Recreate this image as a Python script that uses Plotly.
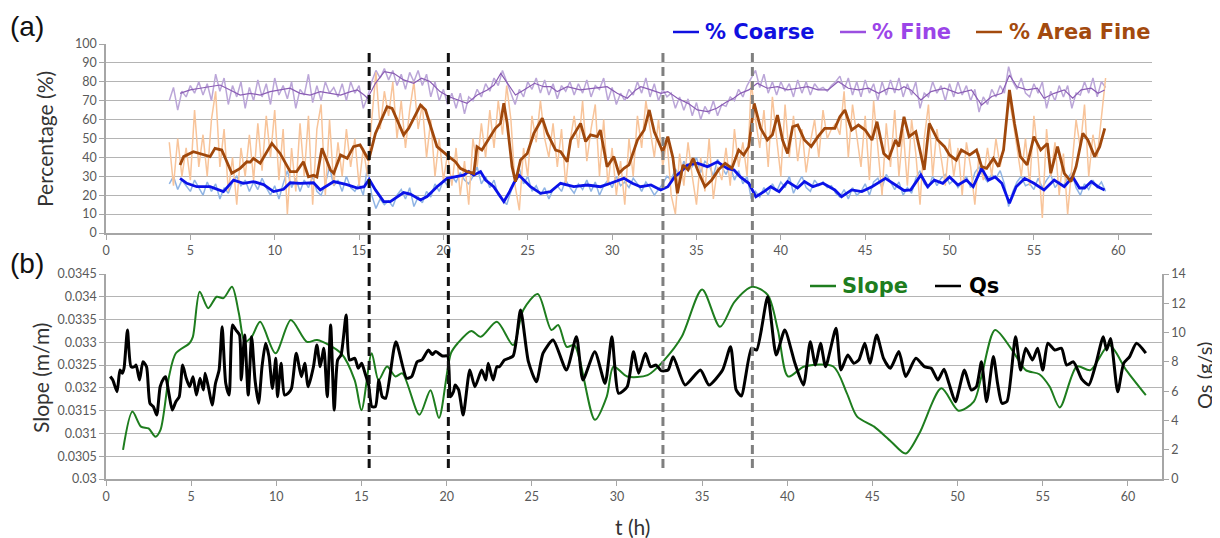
import numpy as np
import plotly.graph_objects as go

# page body has an 8px margin: the figure is placed at (8, 8) in the 1220x538 window
OFF = 8
W, H = 1220 - OFF, 538 - OFF

# ---------------- panel (a): raw series, sampled every 0.25 h from 3.75 h ----------------
raw_start, raw_step = 3.75, 0.25
fine_raw = [70, 77, 65, 75, 72, 78, 74, 80, 73, 79, 70, 84, 75, 82, 68, 78, 72, 80, 66, 77,
            70, 81, 72, 79, 68, 82, 73, 78, 71, 80, 66, 76, 73, 84, 69, 78, 70, 80, 74, 77,
            72, 79, 70, 80, 74, 78, 66, 72, 80, 86, 82, 87, 81, 86, 78, 84, 76, 85, 80, 86,
            78, 84, 72, 80, 70, 76, 68, 74, 66, 74, 63, 72, 70, 76, 72, 79, 75, 82, 78, 86,
            80, 74, 68, 76, 72, 80, 76, 82, 74, 81, 73, 79, 71, 78, 75, 80, 73, 79, 74, 81,
            72, 78, 76, 82, 70, 77, 68, 74, 70, 76, 73, 80, 74, 82, 72, 79, 70, 76, 72, 74,
            66, 72, 65, 71, 62, 69, 60, 67, 63, 70, 62, 68, 67, 72, 70, 76, 72, 78, 82, 86,
            77, 84, 74, 80, 73, 80, 75, 79, 72, 81, 74, 80, 73, 79, 76, 77, 75, 78, 80, 83,
            76, 82, 73, 80, 72, 81, 74, 79, 70, 80, 73, 81, 74, 82, 72, 79, 73, 80, 66, 74,
            72, 80, 74, 78, 70, 79, 72, 80, 73, 78, 70, 76, 64, 72, 68, 76, 72, 78, 74, 88,
            80, 76, 82, 74, 72, 79, 74, 80, 66, 75, 70, 78, 72, 78, 66, 74, 73, 80, 74, 82,
            72, 80, 77]
area_raw = [48, 25, 50, 30, 45, 28, 65, 35, 52, 30, 60, 75, 35, 55, 22, 40, 15, 45, 30, 52,
            28, 58, 33, 62, 40, 65, 28, 55, 10, 45, 22, 58, 30, 62, 15, 55, 68, 20, 60, 25,
            48, 30, 55, 35, 50, 25, 45, 30, 60, 85, 55, 75, 62, 80, 50, 70, 45, 65, 80, 55,
            68, 40, 60, 30, 50, 28, 42, 25, 45, 20, 38, 15, 50, 35, 58, 40, 65, 45, 70, 52,
            78, 60, 25, 12, 45, 30, 62, 48, 70, 50, 40, 58, 35, 55, 25, 48, 62, 45, 70, 38,
            55, 68, 30, 60, 25, 45, 20, 38, 15, 50, 30, 62, 45, 70, 55, 40, 60, 35, 50, 20,
            10, 42, 25, 48, 30, 15, 40, 22, 50, 18, 35, 28, 45, 25, 55, 35, 48, 30, 80, 60,
            45, 65, 35, 72, 50, 30, 68, 40, 62, 38, 55, 32, 48, 60, 40, 65, 50, 55, 58, 52,
            75, 40, 68, 50, 35, 62, 28, 70, 45, 20, 58, 35, 65, 30, 55, 25, 60, 42, 15, 50,
            68, 30, 55, 40, 25, 50, 30, 45, 20, 48, 35, 15, 42, 28, 45, 30, 50, 35, 48, 72,
            60, 45, 30, 50, 25, 62, 40, 8, 55, 30, 48, 20, 42, 10, 35, 60, 45, 68, 30, 52,
            40, 62, 82]
coarse_raw = [26, 30, 23, 28, 25, 22, 28, 24, 20, 27, 22, 26, 18, 24, 21, 27, 30, 25, 28, 22,
              27, 23, 29, 24, 20, 25, 18, 26, 33, 24, 29, 22, 28, 24, 30, 22, 20, 26, 35, 25,
              28, 22, 30, 24, 22, 26, 20, 35, 20, 13, 18, 15, 17, 14, 20, 23, 18, 24, 14, 19,
              16, 22, 19, 26, 22, 28, 25, 30, 27, 32, 28, 26, 30, 35, 26, 30, 24, 28, 20, 18,
              15, 22, 28, 34, 26, 30, 22, 25, 20, 24, 18, 23, 25, 22, 28, 24, 21, 26, 23, 28,
              22, 27, 20, 25, 28, 24, 30, 25, 27, 24, 29, 26, 22, 27, 24, 20, 23, 26, 30, 28,
              34, 30, 38, 33, 35, 40, 32, 38, 36, 30, 39, 35, 31, 36, 28, 33, 26, 30, 18, 22,
              19, 24, 20, 26, 22, 27, 24, 30, 21, 26, 30, 24, 22, 28, 25, 27, 24, 25, 21, 19,
              23, 18, 24, 20, 22, 26, 20, 27, 29, 24, 31, 27, 23, 27, 20, 24, 21, 29, 33, 26,
              24, 30, 25, 29, 31, 26, 28, 24, 27, 30, 24, 32, 35, 30, 27, 31, 29, 33, 26, 14,
              22, 27, 30, 25, 26, 23, 29, 24, 28, 31, 24, 27, 25, 29, 32, 24, 20, 26, 23, 28,
              24, 27, 22]

# ---------------- panel (a): smoothed series ----------------
coarse_t = [4.39, 4.79, 5.38, 6.17, 6.96, 7.56, 8.15, 8.74, 9.34, 9.93, 10.52, 10.92, 11.5, 12.3,
            12.7, 13.5, 14.28, 14.9, 15.3, 15.6, 15.97, 16.46, 16.85, 17.64, 18.04, 18.64, 19.03,
            19.62, 20.22, 20.81, 21.2, 21.5, 21.8, 22.2, 22.5, 22.98, 23.58, 23.87, 24.17, 24.47,
            24.77, 25.16, 25.76, 26.35, 26.94, 27.73, 28.52, 29.31, 29.91, 30.7, 31.2, 31.69,
            32.3, 32.88, 33.3, 33.7, 34.1, 34.46, 35.05, 35.65, 36.24, 36.83, 37.23, 37.6, 38.1,
            38.52, 39.0, 39.4, 39.9, 40.4, 40.99, 41.4, 41.9, 42.5, 43.2, 43.6, 44.2, 44.8, 45.4,
            46.2, 46.8, 47.3, 47.7, 48.3, 48.7, 49.1, 49.6, 50.0, 50.5, 51.0, 51.4, 51.9, 52.3,
            52.7, 53.1, 53.55, 53.95, 54.45, 55.0, 55.6, 56.2, 56.8, 57.3, 57.7, 58.0, 58.4,
            58.8, 59.19]
coarse_s = [28.9, 26.3, 24.5, 24.5, 21.9, 28.0, 26.3, 27.2, 25.6, 21.9, 23.1, 26.6, 26.3, 26.6,
            22.8, 27.2, 25.6, 23.8, 24.5, 28.4, 22.8, 16.6, 16.6, 21.4, 20.6, 17.5, 19.3,
            24.5, 28.9, 29.7, 30.6, 32.5, 30.6, 32.5, 28.0, 24.5, 16.6, 21.0, 26.3, 30.7,
            28.0, 24.5, 21.0, 21.9, 26.3, 24.5, 25.4, 24.5, 26.3, 28.9, 26.3, 24.5,
            25.4, 22.8, 24.5, 29.7, 32.5, 36.0, 36.9, 35.1, 37.7, 34.2, 33.3, 29.7, 26.3,
            19.2, 21.9, 24.5, 21.9, 27.2, 23.8, 27.2, 24.5, 26.3, 22.8, 19.2, 22.8, 21.9, 24.5,
            28.9, 25.4, 22.5, 22.8, 30.7, 24.5, 28.0, 26.3, 29.7, 25.4, 28.0, 24.5, 34.2, 28.0,
            29.7, 26.3, 15.7, 24.5, 28.9, 26.3, 22.8, 28.0, 24.5, 29.7, 23.8, 23.8, 27.2,
            24.5, 22.8]

area_t = [4.39, 4.6, 5.18, 5.58, 6.17, 6.46, 6.86, 7.46, 7.95, 8.35, 8.55, 8.74, 9.14, 9.83,
          10.32, 10.92, 11.3, 11.7, 12.0, 12.3, 12.5, 12.8, 13.3, 13.5, 13.9, 14.3, 14.67, 15.06,
          15.57, 15.97, 16.66, 16.96, 17.64, 17.94, 18.64, 18.94, 19.62, 20.32, 20.71, 21.0,
          21.4, 21.8, 21.99, 22.28, 22.79, 23.08, 23.38, 23.58, 23.78, 24.07, 24.27, 24.57,
          24.97, 25.36, 25.86, 26.16, 26.65, 26.95, 27.34, 27.54, 28.13, 28.43, 28.72, 29.12,
          29.3, 29.7, 30.1, 30.4, 30.7, 31.0, 31.5, 31.9, 32.2, 32.5, 33.0, 33.3, 33.6, 33.87,
          34.2, 34.5, 34.8, 35.1, 35.5, 35.9, 36.3, 36.7, 37.1, 37.5, 37.8, 38.1, 38.42, 38.8,
          39.2, 39.5, 39.8, 40.1, 40.4, 40.7, 41.0, 41.4, 41.8, 42.2, 42.6, 43.2, 43.5, 43.8,
          44.2, 44.6, 45.0, 45.4, 45.7, 46.1, 46.4, 46.8, 47.0, 47.3, 47.6, 48.0, 48.5, 48.8,
          49.3, 49.7, 50.0, 50.4, 50.7, 51.2, 51.6, 51.9, 52.2, 52.6, 52.9, 53.2, 53.55, 53.85,
          54.2, 54.6, 55.0, 55.4, 55.8, 56.0, 56.4, 56.8, 57.2, 57.5, 57.9, 58.2, 58.6, 58.9,
          59.2]
area_s = [36.0, 40.4, 43.0, 42.1, 40.4, 44.8, 43.9, 31.6, 34.2, 37.7, 37.5, 39.5, 36.9, 47.4,
          42.1, 32.5, 32.5, 37.7, 29.7, 30.5, 29.7, 44.8, 33.4, 31.6, 41.3, 39.5, 45.7, 46.6,
          38.6, 52.7, 66.8, 65.9, 51.9, 55.4, 67.7, 65.1, 45.7, 40.4, 37.7, 34.2,
          32.5, 31.5, 45.7, 43.9, 51.0, 55.4, 58.0, 68.6, 58.0, 35.1, 27.2, 38.6,
          42.1, 52.7, 60.7, 52.7, 43.9, 43.0, 37.7, 49.2, 58.0, 48.4, 51.9, 51.0,
          54.5, 35.1, 40.4, 31.6, 34.2, 36.0, 49.2, 54.5, 65.1, 53.6, 43.0, 51.0, 40.0, 21.0,
          36.0, 33.4, 39.5, 32.5, 24.5, 28.0, 33.4, 36.9, 34.2, 43.9, 41.3, 45.7, 68.6, 55.4,
          49.2, 52.0, 62.4, 49.2, 42.1, 56.2, 57.1, 49.2, 45.7, 51.0, 55.4, 55.4, 61.5, 65.1,
          54.5, 57.1, 54.5, 49.2, 58.9, 42.1, 39.5, 49.2, 45.7, 61.5, 51.0, 53.6, 33.4, 58.0,
          49.2, 45.7, 41.3, 38.6, 43.9, 41.3, 43.9, 35.1, 34.2, 39.5, 35.1, 43.9, 75.7, 58.0,
          40.4, 36.0, 51.0, 43.9, 47.4, 31.6, 45.7, 31.6, 27.2, 35.1, 52.7, 49.2, 40.4, 45.7,
          55.4]

fine_t = [4.39, 4.99, 5.58, 6.17, 6.76, 7.36, 7.95, 8.55, 9.14, 9.73, 10.3, 10.9, 11.5, 12.1,
          12.7, 13.3, 13.9, 14.5, 14.9, 15.3, 15.5, 15.97, 16.5, 17.05, 17.64, 18.24, 18.7, 19.2,
          19.8, 20.3, 20.8, 21.4, 22.0, 22.6, 23.0, 23.4, 23.8, 24.27, 24.77, 25.4, 25.95, 26.35,
          26.75, 27.34, 28.1, 29.1, 29.7, 30.3, 30.9, 31.4, 31.7, 32.3, 32.9, 33.3, 33.87, 34.5,
          35.05, 35.65, 36.2, 36.8, 37.2, 37.6, 38.1, 38.6, 39.2, 39.8, 40.4, 41.0, 41.6, 42.2,
          42.8, 43.4, 44.0, 44.6, 45.2, 45.8, 46.4, 47.0, 47.3, 47.7, 48.3, 48.9, 49.7, 50.5,
          51.3, 51.9, 52.5, 53.1, 53.55, 54.0, 54.6, 55.2, 55.6, 56.2, 56.8, 57.3, 57.8, 58.4,
          58.8, 59.19]
fine_s = [73.9, 75.7, 76.6, 77.4, 78.3, 75.7, 73.0, 73.9, 73.0, 74.8, 75.7, 76.6, 73.9, 73.0,
          74.8, 73.9, 73.0, 74.8, 75.7, 73.0, 71.3, 79.2, 85.4, 84.5, 81.0, 79.2, 81.9, 80.1,
          74.8, 72.2, 70.4, 68.6, 73.0, 75.7, 78.3, 84.5, 79.2, 73.0, 75.7, 79.2, 77.4, 77.4,
          74.8, 77.4, 75.7, 76.6, 77.4, 73.9, 71.3, 75.7, 77.4, 75.7, 73.9, 74.8, 71.3, 68.6,
          65.1, 64.2, 66.0, 69.5, 71.3, 73.9, 75.7, 79.2, 76.6, 77.4, 75.7, 76.6, 77.4, 75.7,
          75.7, 80.1, 76.6, 75.7, 76.6, 73.9, 76.6, 75.7, 77.4, 75.7, 70.4, 74.8, 76.6, 73.9,
          75.7, 67.7, 72.2, 73.9, 83.6, 77.4, 75.7, 76.6, 71.3, 73.9, 75.7, 71.3, 75.7, 76.6,
          73.9, 75.7]

# ---------------- panel (b) ----------------
slope_t = [1.0, 1.55, 2.05, 2.5, 2.9, 3.2, 3.7, 4.1, 4.9, 5.1, 5.5, 6.0, 6.5, 6.9, 7.4, 7.8,
           8.15, 8.55, 9.05, 9.95, 10.85, 11.8, 12.4, 13.8, 14.6, 15.0, 15.6, 16.0, 16.5, 17.0,
           17.4, 18.4, 19.05, 19.55, 20.25, 20.65, 21.45, 22.0, 22.95, 23.9, 24.5, 25.35, 26.15,
           26.55, 27.05, 27.5, 28.7, 29.4, 29.8, 30.6, 31.8, 32.8, 33.8, 35.0, 36.05, 36.9,
           37.95, 38.85, 39.45, 40.05, 41.0, 42.7, 43.5, 44.1, 45.1, 46.1, 46.95, 47.75, 49.05,
           50.05, 50.95, 51.4, 52.2, 53.2, 54.0, 54.8, 55.4, 56.0, 57.0, 57.8, 58.9, 59.9, 61.05]
slope = [0.03064, 0.03148, 0.03115, 0.03111, 0.03093, 0.03108, 0.03225, 0.03276, 0.03298,
         0.03312, 0.03411, 0.03375, 0.0340, 0.03397, 0.03422, 0.03364, 0.03301, 0.03312,
         0.03345, 0.03276, 0.03349, 0.03301, 0.03305, 0.03276, 0.03217, 0.03151, 0.03276,
         0.03217, 0.03247, 0.03225, 0.03232, 0.03141, 0.03195, 0.03134, 0.03276, 0.03298,
         0.03325, 0.03312, 0.03345, 0.03294, 0.03371, 0.03406, 0.03327, 0.03338, 0.0329,
         0.03294, 0.0313, 0.03181, 0.03247, 0.03225, 0.03228, 0.03262, 0.03312, 0.03416,
         0.03334, 0.03389, 0.03422, 0.03404, 0.03327, 0.03225, 0.03247, 0.03247, 0.03188,
         0.03137, 0.03115, 0.03082, 0.03056, 0.031, 0.03199, 0.0315, 0.0317, 0.03225, 0.03327,
         0.03283, 0.03239, 0.0323, 0.03203, 0.03157, 0.03247, 0.03239, 0.03294, 0.03239, 0.03184]

qs_t = [0.25, 0.4, 0.65, 0.82, 0.96, 1.06, 1.26, 1.47, 1.67, 1.77, 1.97, 2.17, 2.38, 2.58, 2.78,
        2.98, 3.18, 3.39, 3.5, 3.69, 3.89, 4.1, 4.3, 4.5, 4.71, 4.91, 5.11, 5.31, 5.52, 5.72,
        5.82, 6.03, 6.23, 6.43, 6.64, 6.82, 7.03, 7.23, 7.43, 7.63, 7.84, 7.94, 8.14, 8.35, 8.55,
        8.75, 8.96, 9.16, 9.37, 9.57, 9.77, 9.97, 10.07, 10.28, 10.48, 10.69, 10.89, 11.17,
        11.47, 11.67, 11.87, 12.18, 12.38, 12.58, 12.79, 12.99, 13.19, 13.4, 13.6, 13.8, 14.1,
        14.3, 14.61, 14.81, 15.01, 15.21, 15.42, 15.61, 15.82, 16.02, 16.22, 16.42, 17.02,
        17.65, 17.95, 18.27, 18.55, 18.93, 19.15, 19.36, 19.75, 20.05, 20.22, 20.4, 20.5, 20.7,
        20.97, 21.36, 21.66, 22.06, 22.3, 22.44, 22.73, 22.95, 23.1, 23.4, 23.9, 24.34, 24.8,
        25.27, 25.66, 26.25, 27.03, 27.62, 28.0, 28.7, 29.3, 29.7, 30.1, 30.6, 30.97, 31.27,
        31.67, 31.97, 32.3, 32.6, 33.0, 33.3, 34.0, 34.9, 35.4, 36.2, 36.67, 37.0, 37.3, 37.9,
        38.2, 38.85, 39.35, 39.85, 40.45, 40.95, 41.35, 41.65, 41.95, 42.25, 42.86, 43.15,
        43.55, 43.9, 44.2, 44.55, 44.85, 45.25, 45.65, 46.05, 46.55, 46.95, 47.55, 48.05,
        48.45, 48.84, 49.2, 49.5, 49.87, 50.4, 50.8, 51.1, 51.4, 51.7, 52.1, 52.35, 52.6, 52.9,
        53.4, 53.7, 54.0, 54.4, 54.7, 55.0, 55.3, 55.7, 56.1, 56.4, 56.8, 57.3, 57.7, 58.1,
        58.55, 58.75, 58.98, 59.4, 59.75, 60.1, 60.5, 61.05]
qs = [7.0, 6.76, 5.96, 7.44, 7.22, 7.56, 10.17, 7.67, 7.67, 7.78, 6.76, 8.01, 7.67, 5.17, 4.94,
      4.37, 6.3, 6.88, 6.99, 5.85, 4.71, 5.28, 5.62, 7.78, 6.88, 6.3, 6.99, 5.74, 6.88, 6.08,
      7.22, 6.18, 5.05, 6.54, 7.44, 10.4, 6.54, 5.74, 10.52, 10.17, 9.83, 6.76, 9.83, 5.74, 9.72,
      6.76, 5.17, 7.67, 9.27, 8.36, 6.18, 8.24, 5.62, 7.9, 5.74, 5.85, 6.18, 8.59,
      6.99, 7.9, 6.3, 7.67, 9.15, 7.67, 8.93, 5.62, 10.52, 4.71, 8.13, 8.47, 11.2,
      8.13, 8.24, 7.56, 7.9, 7.22, 6.42, 4.94, 4.94, 6.76, 5.62, 5.51, 9.38,
      6.88, 7.0, 8.01, 8.13, 8.81, 8.5, 8.7, 8.4, 8.4, 5.62, 5.96, 6.42, 6.1,
      4.37, 7.44, 6.3, 7.44, 6.76, 7.9, 6.76, 7.67, 7.67, 8.13, 8.4, 11.54, 8.01,
      6.64, 8.59, 9.49, 7.44, 9.72, 6.76, 8.69, 6.53, 9.72, 5.85, 6.3, 8.69, 7.22,
      8.59, 7.67, 7.78, 7.4, 7.44, 8.35, 6.42, 7.44, 6.42, 7.44, 9.04, 6.08, 5.67, 8.93,
      8.81, 12.45, 8.47, 10.17, 7.9, 6.42, 9.38, 7.78, 9.27, 7.67, 10.29, 7.44,
      8.47, 7.9, 8.13, 9.27, 7.9, 9.83, 8.24, 7.56, 8.7, 7.0, 8.24, 7.67,
      7.56, 6.76, 7.5, 6.5, 5.28, 7.44, 6.08, 6.3, 8.01, 5.28, 8.36, 6.5, 5.17, 5.3,
      9.72, 7.44, 8.93, 8.13, 8.93, 7.44, 9.27, 8.81, 8.93, 7.78, 8.0, 6.8, 6.42, 7.78,
      9.72, 8.81, 9.6, 5.96, 7.9, 8.36, 9.27, 8.6]

event_t = [15.45, 20.1, 32.7, 37.95]
event_col = ["#111111", "#111111", "#7f7f7f", "#7f7f7f"]

x_ticks = list(range(0, 61, 5))
pct_ticks = list(range(0, 101, 10))
slope_ticks = [0.03, 0.0305, 0.031, 0.0315, 0.032, 0.0325, 0.033, 0.0335, 0.034, 0.0345]
slope_labels = ["0.03", "0.0305", "0.031", "0.0315", "0.032", "0.0325", "0.033", "0.0335", "0.034", "0.0345"]
qs_ticks = list(range(0, 15, 2))

# ---------------- figure ----------------
def raw_t(vals):
    return raw_start + raw_step * np.arange(len(vals))

fig = go.Figure()
fig.add_trace(go.Scatter(x=raw_t(fine_raw), y=fine_raw, mode="lines",
                         line=dict(color="#bba6d8", width=1.5), xaxis="x", yaxis="y"))
fig.add_trace(go.Scatter(x=raw_t(coarse_raw), y=coarse_raw, mode="lines",
                         line=dict(color="#8fb4e4", width=1.5), xaxis="x", yaxis="y"))
fig.add_trace(go.Scatter(x=raw_t(area_raw), y=area_raw, mode="lines",
                         line=dict(color="#f8c49a", width=1.5), xaxis="x", yaxis="y"))
fig.add_trace(go.Scatter(x=fine_t, y=fine_s, mode="lines",
                         line=dict(color="#8a5cb4", width=1.2), xaxis="x", yaxis="y"))
fig.add_trace(go.Scatter(x=coarse_t, y=coarse_s, mode="lines",
                         line=dict(color="#0a12e8", width=2.8), xaxis="x", yaxis="y"))
fig.add_trace(go.Scatter(x=area_t, y=area_s, mode="lines",
                         line=dict(color="#a0480c", width=2.8), xaxis="x", yaxis="y"))

fig.add_trace(go.Scatter(x=slope_t, y=slope, mode="lines",
                         line=dict(color="#1e7d1e", width=2, shape="spline", smoothing=0.8),
                         xaxis="x2", yaxis="y2"))
fig.add_trace(go.Scatter(x=qs_t, y=qs, mode="lines",
                         line=dict(color="#000000", width=3, shape="spline", smoothing=0.6),
                         xaxis="x2", yaxis="y3"))

# window pixel -> paper fraction
def px(x):
    return (x - OFF) / W

def py(y):
    return (H - (y - OFF)) / H

grid = "#b4b4b4"
axc = "#a6a6a6"
tickfont = dict(family="Lato, Open Sans, sans-serif", size=12.5, color="#595959")

common_x = dict(range=[0, 62], tickvals=x_ticks, ticks="outside", ticklen=5, tickcolor=axc,
                showline=True, linecolor=axc, linewidth=1.5, showgrid=False, zeroline=False,
                tickfont=tickfont, automargin=False)

fig.update_layout(
    template="none",
    width=W, height=H, autosize=False,
    margin=dict(l=0, r=0, t=0, b=0, pad=0),
    paper_bgcolor="white", plot_bgcolor="white",
    showlegend=False,
    xaxis=dict(domain=[px(106), px(1152)], anchor="y", **common_x),
    yaxis=dict(domain=[py(233), py(44)], range=[0, 100], tickvals=pct_ticks,
               ticks="outside", ticklen=5, tickcolor=axc, showline=True, linecolor=axc,
               linewidth=1.5, showgrid=True, gridcolor=grid, gridwidth=1.3, zeroline=False,
               tickfont=tickfont, anchor="x", automargin=False),
    xaxis2=dict(domain=[px(106), px(1162)], anchor="y2", **common_x),
    yaxis2=dict(domain=[py(479), py(274)], range=[0.03, 0.0345], tickvals=slope_ticks,
                ticktext=slope_labels, ticks="outside", ticklen=5, tickcolor=axc,
                showline=True, linecolor=axc, linewidth=1.5, showgrid=True, gridcolor=grid,
                gridwidth=1.3, zeroline=False, tickfont=tickfont, anchor="x2", automargin=False),
    yaxis3=dict(range=[0, 14], tickvals=qs_ticks, overlaying="y2", side="right", anchor="x2",
                ticks="outside", ticklen=5, tickcolor=axc, showline=True, linecolor=axc,
                linewidth=1.5, showgrid=False, zeroline=False, tickfont=tickfont,
                automargin=False),
)

shapes = []
for t, c in zip(event_t, event_col):
    shapes.append(dict(type="line", xref="x2", yref="paper", x0=t, x1=t,
                       y0=py(468), y1=py(52), line=dict(color=c, width=3, dash="9px,5px")))

# legend swatches
leg_y_a = py(32)
leg_y_b = py(286)
for x0, x1, c, yy in [(673, 699, "#1010e0", leg_y_a), (840, 866, "#9b4fe0", leg_y_a),
                      (976, 1002, "#a34a0e", leg_y_a), (810, 836, "#1e7d1e", leg_y_b),
                      (935, 961, "#000000", leg_y_b)]:
    shapes.append(dict(type="line", xref="paper", yref="paper", x0=px(x0), x1=px(x1),
                       y0=yy, y1=yy, line=dict(color=c, width=2.5)))
fig.update_layout(shapes=shapes)

ann = []
legfont = "DejaVu Sans, Verdana, sans-serif"
for x0, txt, c, yy in [(703, "% Coarse", "#1010e0", leg_y_a), (870, "% Fine", "#9b45e8", leg_y_a),
                       (1007, "% Area Fine", "#a34a0e", leg_y_a), (840, "Slope", "#1e7d1e", leg_y_b),
                       (967, "Qs", "#000000", leg_y_b)]:
    ann.append(dict(xref="paper", yref="paper", x=px(x0), y=yy, xanchor="left", yanchor="middle",
                    text="<b>%s</b>" % txt, showarrow=False,
                    font=dict(family=legfont, size=21, color=c)))

titlefont = dict(family="Lato, Open Sans, sans-serif", size=21, color="#333333")
ann.append(dict(xref="paper", yref="paper", x=px(45), y=py(139), text="Percentage (%)",
                textangle=-90, showarrow=False, xanchor="center", yanchor="middle", font=titlefont))
ann.append(dict(xref="paper", yref="paper", x=px(40), y=py(378), text="Slope (m/m)",
                textangle=-90, showarrow=False, xanchor="center", yanchor="middle", font=titlefont))
ann.append(dict(xref="paper", yref="paper", x=px(1204), y=py(376), text="Qs (g/s)",
                textangle=-90, showarrow=False, xanchor="center", yanchor="middle",
                font=dict(family="Lato, Open Sans, sans-serif", size=20, color="#333333")))
ann.append(dict(xref="paper", yref="paper", x=px(632), y=py(526), text="t (h)",
                showarrow=False, xanchor="center", yanchor="middle", font=titlefont))
labfont = dict(family="Liberation Sans, Arial, sans-serif", size=28, color="#111111")
ann.append(dict(xref="paper", yref="paper", x=px(8), y=py(27), text="(a)", showarrow=False,
                xanchor="left", yanchor="middle", font=labfont))
ann.append(dict(xref="paper", yref="paper", x=px(8), y=py(263), text="(b)", showarrow=False,
                xanchor="left", yanchor="middle", font=labfont))
fig.update_layout(annotations=ann)

fig.write_html("out.html")
